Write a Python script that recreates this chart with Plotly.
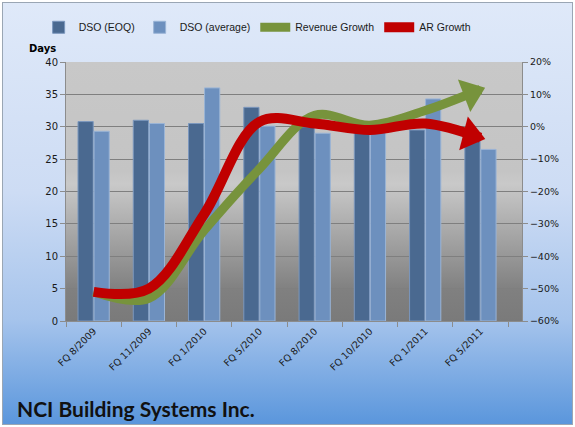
import base64
import plotly.graph_objects as go

categories = ["FQ 8/2009", "FQ 11/2009", "FQ 1/2010", "FQ 5/2010",
              "FQ 8/2010", "FQ 10/2010", "FQ 1/2011", "FQ 5/2011"]
dso_eoq = [30.8, 31.0, 30.5, 33.0, 30.0, 30.8, 29.5, 28.2]
dso_avg = [29.3, 30.5, 36.0, 30.1, 29.0, 30.8, 34.3, 26.5]
revenue_growth = [-0.51, -0.53, -0.32, -0.13, 0.035, 0.005, 0.05, 0.115]
ar_growth = [-0.51, -0.50, -0.27, 0.015, 0.01, -0.01, 0.01, -0.034]

W, H = 575, 427
ML, MR, MT, MB = 66, 53, 62, 106
PW, PH = W - ML - MR, H - MT - MB

svg = f'''<svg xmlns="http://www.w3.org/2000/svg" width="{W}" height="{H}" viewBox="0 0 {W} {H}">
<defs>
<linearGradient id="bg" x1="0" y1="0" x2="0" y2="1">
<stop offset="0" stop-color="#dfe9f9"/>
<stop offset="0.45" stop-color="#cddcf4"/>
<stop offset="0.75" stop-color="#a6c4ec"/>
<stop offset="1" stop-color="#5a96dc"/>
</linearGradient>
<linearGradient id="pa" x1="0" y1="0" x2="0" y2="1">
<stop offset="0" stop-color="#c8c8c8"/>
<stop offset="0.42" stop-color="#c4c4c4"/>
<stop offset="0.47" stop-color="#c9c9c9"/>
<stop offset="0.88" stop-color="#808080"/>
<stop offset="1" stop-color="#7a7a7a"/>
</linearGradient>
</defs>
<rect x="0" y="0" width="{W}" height="{H}" fill="#ffffff"/>
<rect x="2.5" y="2.5" width="{W-5}" height="{H-5}" fill="url(#bg)" stroke="#9aa6b4" stroke-width="1"/>
<rect x="{ML}" y="{MT}" width="{PW}" height="{PH}" fill="url(#pa)"/>
</svg>'''
src = "data:image/svg+xml;base64," + base64.b64encode(svg.encode()).decode()

fig = go.Figure()
fig.add_trace(go.Bar(
    x=categories, y=dso_eoq, name="DSO (EOQ)",
    marker=dict(color="#4a6990", line=dict(color="#7b97bd", width=1)),
))
fig.add_trace(go.Bar(
    x=categories, y=dso_avg, name="DSO (average)",
    marker=dict(color="#6d90be", line=dict(color="#9ab4d6", width=1)),
))

n = len(categories)
sym = ["circle"] * (n - 1) + ["triangle-up"]
siz = [0] * (n - 1) + [30]
fig.add_trace(go.Scatter(
    x=categories, y=revenue_growth, name="Revenue Growth", yaxis="y2",
    mode="lines+markers",
    line=dict(color="#77933c", width=9, shape="spline", smoothing=1.0),
    marker=dict(symbol=sym, size=siz, color="#77933c", angleref="previous",
                opacity=1, standoff=10, line=dict(width=0)),
))
fig.add_trace(go.Scatter(
    x=categories, y=ar_growth, name="AR Growth", yaxis="y2",
    mode="lines+markers",
    line=dict(color="#c00000", width=10, shape="spline", smoothing=1.0),
    marker=dict(symbol=sym, size=siz, color="#c00000", angleref="previous",
                opacity=1, standoff=10, line=dict(width=0)),
))

font = "DejaVu Sans"
lfont = "Liberation Sans"
fig.update_layout(
    width=W, height=H,
    margin=dict(l=ML, r=MR, t=MT, b=MB, pad=0),
    paper_bgcolor="rgba(0,0,0,0)",
    plot_bgcolor="rgba(0,0,0,0)",
    barmode="group", bargap=0.42, bargroupgap=0.05,
    font=dict(family=font, size=10, color="#1a1a1a"),
    showlegend=True,
    legend=dict(orientation="h", x=-0.06, y=1.19, xanchor="left", yanchor="top",
                font=dict(family=lfont, size=10.5, color="#1a1a1a"),
                bgcolor="rgba(0,0,0,0)", itemwidth=30, traceorder="normal"),
    xaxis=dict(type="category", tickangle=-45, tickson="boundaries",
               ticks="outside", ticklen=5, tickcolor="#8c8c8c",
               showline=True, linecolor="#8c8c8c", linewidth=1,
               showgrid=False, tickfont=dict(family=font, size=9.5)),
    yaxis=dict(range=[0, 40], dtick=5, ticks="outside", ticklen=5,
               tickcolor="#8c8c8c", showline=True, linecolor="#8c8c8c",
               gridcolor="#7f7f7f", gridwidth=1, zeroline=False,
               tickfont=dict(family=font, size=10)),
    yaxis2=dict(range=[-0.6, 0.2], dtick=0.1, tickformat=".0%", overlaying="y",
                side="right", ticks="outside", ticklen=5, tickcolor="#8c8c8c",
                showline=True, linecolor="#8c8c8c", showgrid=False,
                zeroline=False, tickfont=dict(family=font, size=9.5)),
    images=[dict(source=src, xref="paper", yref="paper",
                 x=-ML / PW, y=1 + MT / PH, sizex=W / PW, sizey=H / PH,
                 xanchor="left", yanchor="top", sizing="stretch", layer="below")],
    annotations=[
        dict(text="<b>Days</b>", xref="paper", yref="paper",
             x=(27 - ML) / PW, y=1 + 14 / PH, xanchor="left", yanchor="middle",
             showarrow=False, font=dict(family=font, size=10, color="#000000")),
        dict(text="<b>NCI Building Systems Inc.</b>", xref="paper", yref="paper",
             x=(15 - ML) / PW, y=-(408 - MT - PH) / PH, xanchor="left",
             yanchor="middle", showarrow=False,
             font=dict(family="Lato", size=21, color="#111111")),
    ],
)

fig.write_html("out.html")
